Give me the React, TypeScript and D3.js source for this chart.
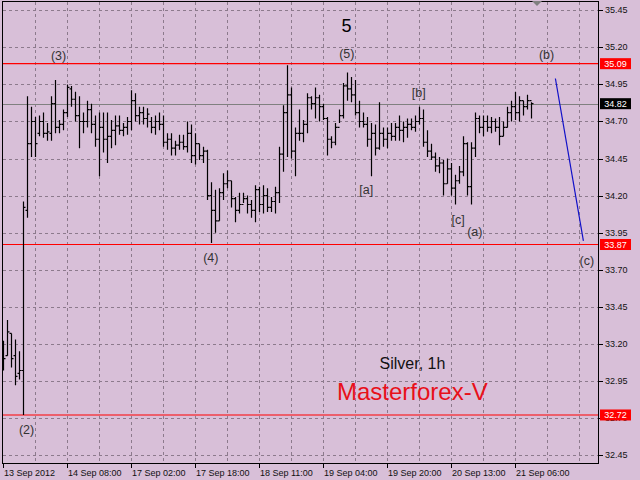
import React from 'react';
import * as d3 from 'd3';

// ---- OHLC data (hourly silver bars) ----
const highs = [
  33.22, 33.36, 33.27, 33.23, 33.15, 34.16, 34.87, 34.80, 34.73, 34.74,
  34.76, 34.69, 34.87, 34.98, 34.71, 34.78, 34.95, 34.94, 34.90, 34.87,
  34.76, 34.84, 34.82, 34.74, 34.76, 34.76, 34.76, 34.71, 34.74, 34.74,
  34.69, 34.73, 34.91, 34.89, 34.80, 34.80, 34.79, 34.73, 34.74, 34.76,
  34.74, 34.62, 34.62, 34.57, 34.61, 34.61, 34.70, 34.68, 34.62, 34.55,
  34.53, 34.51, 34.29, 34.24, 34.25, 34.35, 34.37, 34.30, 34.19, 34.22,
  34.22, 34.20, 34.17, 34.27, 34.26, 34.27, 34.25, 34.19, 34.26, 34.53,
  34.81, 35.08, 34.93, 34.66, 34.78, 34.71, 34.89, 34.87, 34.93, 34.88,
  34.82, 34.73, 34.60, 34.69, 34.78, 34.96, 35.03, 35.00, 34.98, 34.84,
  34.76, 34.73, 34.69, 34.68, 34.83, 34.66, 34.66, 34.69, 34.69, 34.74,
  34.70, 34.72, 34.72, 34.74, 34.80, 34.78, 34.64, 34.55, 34.49, 34.46,
  34.44, 34.45, 34.42, 34.34, 34.40, 34.60, 34.56, 34.56, 34.76, 34.74,
  34.74, 34.74, 34.73, 34.72, 34.73, 34.70, 34.80, 34.84, 34.90, 34.87,
  34.84, 34.88, 34.83,
];
const lows = [
  33.02, 33.12, 33.04, 32.92, 32.96, 32.72, 34.05, 34.46, 34.46, 34.60,
  34.59, 34.57, 34.57, 34.62, 34.62, 34.64, 34.73, 34.80, 34.70, 34.52,
  34.62, 34.66, 34.62, 34.53, 34.33, 34.49, 34.42, 34.52, 34.54, 34.61,
  34.60, 34.61, 34.64, 34.70, 34.68, 34.68, 34.66, 34.62, 34.61, 34.64,
  34.53, 34.51, 34.47, 34.47, 34.51, 34.51, 34.49, 34.42, 34.41, 34.44,
  34.42, 34.17, 33.88, 33.95, 34.03, 34.17, 34.25, 34.12, 34.02, 34.08,
  34.15, 34.08, 34.05, 34.02, 34.09, 34.08, 34.09, 34.09, 34.08, 34.15,
  34.36, 34.46, 34.45, 34.33, 34.57, 34.56, 34.62, 34.78, 34.72, 34.70,
  34.71, 34.47, 34.52, 34.54, 34.69, 34.72, 34.84, 34.83, 34.74, 34.66,
  34.66, 34.53, 34.33, 34.47, 34.51, 34.53, 34.52, 34.57, 34.57, 34.57,
  34.56, 34.59, 34.64, 34.63, 34.68, 34.53, 34.46, 34.44, 34.36, 34.35,
  34.20, 34.28, 34.20, 34.14, 34.28, 34.33, 34.20, 34.14, 34.46, 34.62,
  34.60, 34.63, 34.62, 34.63, 34.54, 34.60, 34.66, 34.70, 34.71, 34.70,
  34.74, 34.78, 34.72,
];
const opens = [
  33.15, 33.12, 33.27, 33.12, 33.00, 33.02, 34.10, 34.55, 34.70, 34.62,
  34.70, 34.62, 34.62, 34.82, 34.66, 34.68, 34.76, 34.92, 34.85, 34.74,
  34.70, 34.70, 34.78, 34.68, 34.58, 34.66, 34.58, 34.60, 34.64, 34.67,
  34.64, 34.66, 34.70, 34.84, 34.74, 34.76, 34.72, 34.70, 34.66, 34.70,
  34.68, 34.56, 34.58, 34.52, 34.54, 34.56, 34.53, 34.62, 34.47, 34.55,
  34.47, 34.50, 34.20, 34.10, 34.03, 34.22, 34.28, 34.30, 34.18, 34.10,
  34.14, 34.18, 34.14, 34.10, 34.24, 34.14, 34.20, 34.12, 34.16, 34.22,
  34.48, 34.76, 34.88, 34.50, 34.62, 34.62, 34.68, 34.86, 34.82, 34.86,
  34.80, 34.72, 34.58, 34.56, 34.66, 34.74, 34.94, 34.92, 34.88, 34.76,
  34.70, 34.68, 34.58, 34.62, 34.52, 34.62, 34.58, 34.62, 34.60, 34.66,
  34.64, 34.66, 34.68, 34.66, 34.70, 34.72, 34.56, 34.50, 34.46, 34.40,
  34.42, 34.28, 34.38, 34.25, 34.30, 34.36, 34.55, 34.26, 34.52, 34.72,
  34.66, 34.70, 34.66, 34.70, 34.66, 34.60, 34.66, 34.76, 34.80, 34.76,
  34.84, 34.80, 34.84,
];
const closes = [
  33.10, 33.28, 33.10, 32.98, 33.02, 34.12, 34.55, 34.70, 34.55, 34.70,
  34.62, 34.63, 34.82, 34.66, 34.68, 34.76, 34.93, 34.85, 34.74, 34.70,
  34.70, 34.78, 34.68, 34.58, 34.66, 34.58, 34.60, 34.64, 34.67, 34.64,
  34.66, 34.70, 34.84, 34.74, 34.76, 34.72, 34.75, 34.66, 34.70, 34.68,
  34.56, 34.58, 34.52, 34.54, 34.56, 34.53, 34.62, 34.47, 34.55, 34.47,
  34.50, 34.20, 34.10, 34.03, 34.22, 34.28, 34.30, 34.18, 34.10, 34.14,
  34.18, 34.14, 34.10, 34.24, 34.14, 34.20, 34.12, 34.16, 34.22, 34.48,
  34.76, 34.88, 34.50, 34.62, 34.62, 34.68, 34.86, 34.82, 34.86, 34.80,
  34.72, 34.58, 34.56, 34.66, 34.74, 34.94, 34.92, 34.88, 34.76, 34.70,
  34.68, 34.58, 34.62, 34.52, 34.62, 34.58, 34.62, 34.60, 34.66, 34.64,
  34.66, 34.68, 34.66, 34.70, 34.72, 34.56, 34.50, 34.46, 34.40, 34.42,
  34.28, 34.38, 34.25, 34.30, 34.36, 34.55, 34.26, 34.52, 34.72, 34.66,
  34.70, 34.66, 34.70, 34.66, 34.60, 34.66, 34.76, 34.80, 34.76, 34.84,
  34.80, 34.84, 34.82,
];

// ---- axes ----
const xTickIndex = [0, 16, 32, 48, 64, 80, 96, 112, 128];
const xTickLabels = [
  '13 Sep 2012', '14 Sep 08:00', '17 Sep 02:00', '17 Sep 18:00', '18 Sep 11:00',
  '19 Sep 04:00', '19 Sep 20:00', '20 Sep 13:00', '21 Sep 06:00',
];
const yTicks = [35.45, 35.2, 34.95, 34.7, 34.45, 34.2, 33.95, 33.7, 33.45, 33.2, 32.95, 32.7, 32.45];

// ---- horizontal levels ----
const levelLines = [35.09, 33.87, 32.72];
const currentPrice = 34.82;

// ---- wave annotations ----
const waveText = ['(2)', '(3)', '(4)', '(5)', '[a]', '[b]', '[c]', '(a)', '(b)', '(c)'];
const waveIndex = [5.9, 13.9, 51.95, 85.95, 90.8, 103.95, 113.8, 117.95, 135.9, 145.95];
const wavePrice = [32.616, 35.145, 33.777, 35.155, 34.24, 34.89, 34.035, 33.954, 35.148, 33.762];
const bigLabel = '5';
const bigLabelIndex = 85.9;
const bigLabelPrice = 35.345;

// ---- forecast line ----
const forecastIndex = [138.1, 145.1];
const forecastPrice = [34.99, 33.895];

const BG = '#d8bfd8';
const GRID = '#8c7a8c';
const FONT = '"Liberation Sans", Arial, sans-serif';

export default function App() {
  const W = 640;
  const H = 480;
  const left = 2.5;
  const right = 598.5;
  const top = 1.5;
  const bottom = 463.5;

  const x = d3.scaleLinear().domain([0, 1]).range([3, 7]);
  const y = d3.scaleLinear().domain([35.45, 32.45]).range([10.3, 455]);

  const gridXs = d3.range(8, 148, 8);
  const bars = highs.map((h, i) => ({ i, h, l: lows[i], o: opens[i], c: closes[i] }));
  const fmt = d3.format('.2f');
  const forecast = d3.line<number>()
    .x((_, k) => x(forecastIndex[k]))
    .y((p) => y(p));

  return (
    <svg width={W} height={H} style={{ position: 'absolute', left: 0, top: 0, display: 'block' }}
      fontFamily={FONT}>
      <rect x={0} y={0} width={W} height={H} fill={BG} />
      <defs>
        <clipPath id="plot">
          <rect x={left} y={top} width={right - left} height={bottom - top} />
        </clipPath>
      </defs>

      {/* grid */}
      <g stroke={GRID} strokeWidth={1} strokeDasharray="3,3" shapeRendering="crispEdges">
        {yTicks.map((t) => (
          <line key={'gy' + t} x1={left} x2={right} y1={Math.round(y(t)) + 0.5} y2={Math.round(y(t)) + 0.5} />
        ))}
        {gridXs.map((g) => (
          <line key={'gx' + g} x1={Math.round(x(g)) + 0.5} x2={Math.round(x(g)) + 0.5} y1={top} y2={bottom} />
        ))}
      </g>

      <g clipPath="url(#plot)">
        {/* levels */}
        {levelLines.map((lv) => (
          <line key={'lv' + lv} x1={left} x2={right} y1={y(lv)} y2={y(lv)} stroke="#ff0000" strokeWidth={1.2} />
        ))}
        <line x1={left} x2={right} y1={Math.round(y(currentPrice)) + 0.5} y2={Math.round(y(currentPrice)) + 0.5}
          stroke="#808080" strokeWidth={1} />

        {/* bars */}
        <g stroke="#000" strokeWidth={1.2}>
          {bars.map((b) => {
            const cx = x(b.i) + 0.5;
            return (
              <g key={'b' + b.i}>
                <line x1={cx} x2={cx} y1={y(b.h)} y2={y(b.l)} />
                <line x1={cx - 2} x2={cx} y1={y(b.o)} y2={y(b.o)} />
                <line x1={cx} x2={cx + 2} y1={y(b.c)} y2={y(b.c)} />
              </g>
            );
          })}
        </g>

        {/* forecast */}
        <path d={forecast(forecastPrice) || ''} fill="none" stroke="#1010c8" strokeWidth={1.2} />
      </g>

      {/* wave labels */}
      <g fill="#333" fontSize={12.5} textAnchor="middle" dominantBaseline="central">
        {waveText.map((t, k) => (
          <text key={'w' + k} x={x(waveIndex[k])} y={y(wavePrice[k])}>{t}</text>
        ))}
      </g>
      <text x={x(bigLabelIndex)} y={y(bigLabelPrice)} fontSize={18} textAnchor="middle"
        dominantBaseline="central" fill="#000">{bigLabel}</text>

      {/* captions */}
      <text x={379.5} y={369} fontSize={16} fill="#111">Silver, 1h</text>
      <text x={337} y={400} fontSize={24} fill="#e8101a">Masterforex-V</text>

      {/* frame */}
      <rect x={left} y={top} width={right - left} height={bottom - top} fill="none" stroke="#000" strokeWidth={1}
        shapeRendering="crispEdges" />

      {/* shift marker */}
      <path d="M532,1 L542,1 L537,6 Z" fill="#808080" />

      {/* y axis */}
      <g fontSize={9} fill="#111">
        {yTicks.map((t) => (
          <g key={'yt' + t}>
            <line x1={right} x2={right + 4} y1={Math.round(y(t)) + 0.5} y2={Math.round(y(t)) + 0.5}
              stroke="#000" shapeRendering="crispEdges" />
            <text x={605} y={y(t)} dominantBaseline="central">{fmt(t)}</text>
          </g>
        ))}
      </g>

      {/* price boxes */}
      {levelLines.map((lv) => (
        <g key={'pb' + lv}>
          <rect x={600} y={y(lv) - 5.5} width={31} height={11} fill="#ff0000" />
          <text x={615.5} y={y(lv)} fontSize={9} fill="#fff" textAnchor="middle" dominantBaseline="central">{fmt(lv)}</text>
        </g>
      ))}
      <rect x={600} y={y(currentPrice) - 5.5} width={31} height={11} fill="#000" />
      <text x={615.5} y={y(currentPrice)} fontSize={9} fill="#fff" textAnchor="middle" dominantBaseline="central">
        {fmt(currentPrice)}
      </text>

      {/* x axis */}
      <g fontSize={9} fill="#111">
        {xTickIndex.map((ti, k) => (
          <g key={'xt' + ti}>
            <line x1={Math.round(x(ti)) + 0.5} x2={Math.round(x(ti)) + 0.5} y1={bottom} y2={bottom + 4}
              stroke="#000" shapeRendering="crispEdges" />
            <text x={x(ti) + 1} y={476}>{xTickLabels[k]}</text>
          </g>
        ))}
      </g>
    </svg>
  );
}
